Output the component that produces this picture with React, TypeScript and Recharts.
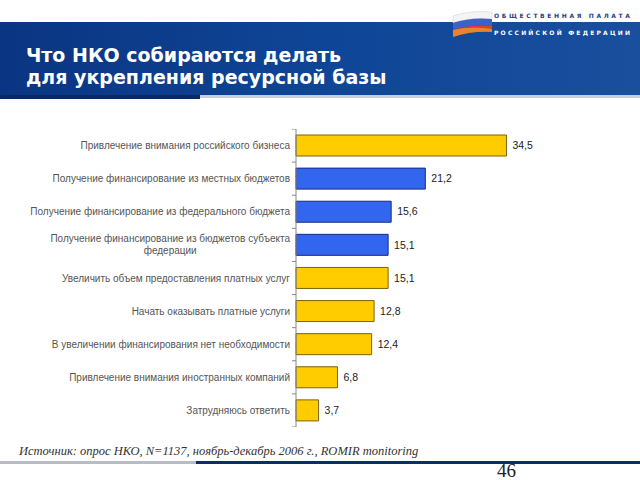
import React from 'react';
import { BarChart, Bar, XAxis, YAxis, Cell, LabelList } from 'recharts';

// Survey answers, top to bottom
const categories = [
  'Привлечение внимания российского бизнеса',
  'Получение финансирование из местных бюджетов',
  'Получение финансирование из федерального бюджета',
  'Получение финансирование из бюджетов субъекта|федерации',
  'Увеличить объем предоставления платных услуг',
  'Начать оказывать платные услуги',
  'В увеличении финансирования нет необходимости',
  'Привлечение внимания иностранных компаний',
  'Затрудняюсь ответить',
];
const values = [34.5, 21.2, 15.6, 15.1, 15.1, 12.8, 12.4, 6.8, 3.7];
// budget funding answers are highlighted in blue
const groups = ['other', 'budget', 'budget', 'budget', 'other', 'other', 'other', 'other', 'other'];

const title = ['Что НКО собираются делать', 'для укрепления ресурсной базы'];
const logo = ['ОБЩЕСТВЕННАЯ ПАЛАТА', 'РОССИЙСКОЙ ФЕДЕРАЦИИ'];
const source = 'Источник: опрос НКО, N=1137, ноябрь-декабрь 2006 г., ROMIR monitoring';
const pageNumber = '46';

const data = categories.map((name, i) => ({ name, value: values[i], group: groups[i] }));

const FILL = { other: '#ffcc00', budget: '#3366ee' };
const STROKE = { other: '#7a6400', budget: '#1a2a80' };

const CHART_H = 298;
const BAND = CHART_H / categories.length;
const LABEL_FONT = '10px "Liberation Sans", Arial, sans-serif';

function measure(text: string) {
  const c = document.createElement('canvas').getContext('2d');
  if (!c) return text.length * 5.2;
  c.font = LABEL_FONT;
  return c.measureText(text).width;
}

function CategoryTick(props: any) {
  const { x, y, payload, index } = props;
  const lines = String(payload.value).split('|');
  const axisX = x + 6;
  const right = axisX - 6;
  const first = measure(lines[0]);
  return (
    <g>
      <line x1={axisX - 4} x2={axisX} y1={y - BAND / 2} y2={y - BAND / 2} stroke="#888" />
      {index === categories.length - 1 && (
        <line x1={axisX - 4} x2={axisX} y1={y + BAND / 2} y2={y + BAND / 2} stroke="#888" />
      )}
      {lines.length === 1 ? (
        <text x={right} y={y} dy={3.5} textAnchor="end" fill="#555" style={{ font: LABEL_FONT }}>
          {lines[0]}
        </text>
      ) : (
        <>
          <text x={right} y={y - 6} dy={3.5} textAnchor="end" fill="#555" style={{ font: LABEL_FONT }}>
            {lines[0]}
          </text>
          <text x={right - first / 2} y={y + 6} dy={3.5} textAnchor="middle" fill="#555" style={{ font: LABEL_FONT }}>
            {lines[1]}
          </text>
        </>
      )}
    </g>
  );
}

function Logo() {
  return (
    <svg width={200} height={40} style={{ position: 'absolute', left: 440, top: 4 }}>
      <path d="M13 12 Q30 6 52 8 L52 15 Q30 13 13 19 Z" fill="#f4f4f4" stroke="#ccc" strokeWidth={0.5} />
      <path d="M13 19 Q30 13 52 15 L52 22 Q30 20 13 26 Z" fill="#3a62c8" />
      <path d="M13 26 Q30 20 52 22 L52 28 Q30 27 13 33 Z" fill="#e0402a" />
      <path d="M13 26 Q30 22 52 25 L52 28 Q30 27 13 33 Z" fill="#f0a030" opacity={0.7} />
      <text x={54} y={14} textLength={136} lengthAdjust="spacing" fill="#1a3e8c"
        style={{ font: 'bold 6px "DejaVu Sans", sans-serif' }}>
        {logo[0]}
      </text>
      <text x={54} y={31} textLength={136} lengthAdjust="spacing" fill="#fff"
        style={{ font: 'bold 6px "DejaVu Sans", sans-serif' }}>
        {logo[1]}
      </text>
    </svg>
  );
}

export default function App() {
  return (
    <div style={{ position: 'fixed', left: 0, top: 0, width: 640, height: 480, background: '#fff', overflow: 'hidden' }}>
      {/* header band */}
      <div
        style={{
          position: 'absolute', left: 0, top: 22, width: 640, height: 73,
          background: 'linear-gradient(90deg, #0a3582 0%, #0f4596 50%, #1a4f9e 100%)',
        }}
      />
      <div style={{ position: 'absolute', left: 0, top: 95, width: 200, height: 4, background: '#062a66' }} />
      <div style={{ position: 'absolute', left: 200, top: 95, width: 440, height: 3, background: '#c9ced8' }} />
      <Logo />
      <div style={{ position: 'absolute', left: 26, top: 44, font: 'bold 19px "DejaVu Sans", sans-serif', lineHeight: '22px', color: '#fff' }}>
        {title[0]}
        <br />
        {title[1]}
      </div>

      <div style={{ position: 'absolute', left: 0, top: 129 }}>
        <BarChart
          width={640}
          height={CHART_H}
          data={data}
          layout="vertical"
          margin={{ top: 0, right: 100, bottom: 0, left: 0 }}
          barSize={21}
        >
          <XAxis type="number" domain={[0, 40]} hide />
          <YAxis
            type="category"
            dataKey="name"
            width={296}
            axisLine={{ stroke: '#888' }}
            tickLine={false}
            tickMargin={0}
            interval={0}
            tick={<CategoryTick />}
          />
          <Bar dataKey="value" isAnimationActive={false} strokeWidth={1}>
            {data.map((d, i) => (
              <Cell key={i} fill={FILL[d.group as 'other' | 'budget']} stroke={STROKE[d.group as 'other' | 'budget']} />
            ))}
            <LabelList
              dataKey="value"
              position="right"
              offset={6}
              formatter={(v: any) => String(v.toFixed(1)).replace('.', ',')}
              style={{ font: '10.5px "Liberation Sans", Arial, sans-serif', fill: '#222' }}
            />
          </Bar>
        </BarChart>
      </div>

      {/* footer */}
      <div style={{ position: 'absolute', left: 19, top: 444, font: 'italic 12.5px "Liberation Serif", serif', color: '#333' }}>
        {source}
      </div>
      <div style={{ position: 'absolute', left: 0, top: 461, width: 196, height: 3, background: '#b8bcc4' }} />
      <div style={{ position: 'absolute', left: 196, top: 461, width: 444, height: 3, background: '#0b2e66' }} />
      <div style={{ position: 'absolute', left: 497, top: 461, font: '19px "Liberation Serif", serif', lineHeight: '19px', color: '#222' }}>
        {pageNumber}
      </div>
    </div>
  );
}
